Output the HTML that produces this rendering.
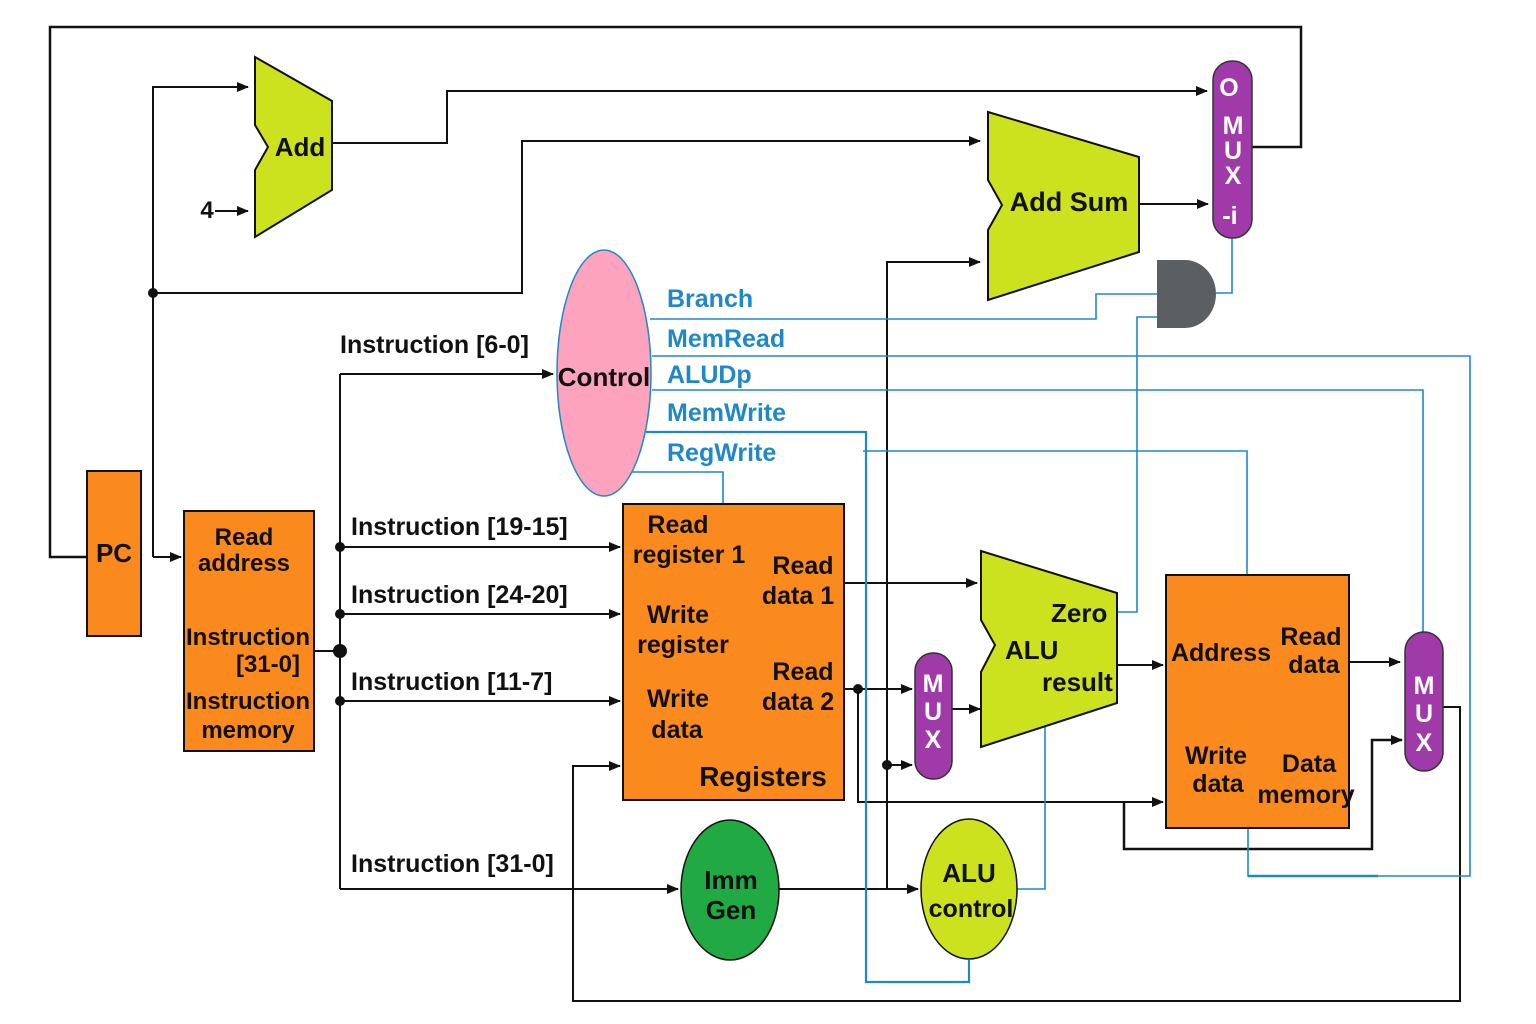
<!DOCTYPE html>
<html><head><meta charset="utf-8"><style>
html,body{margin:0;padding:0;background:#fff}
svg{display:block}
text{font-family:"Liberation Sans Narrow","Liberation Sans",sans-serif;font-weight:bold;fill:#111}
.b{fill:#1e88c8}
.w{fill:#fff}
</style></head><body>
<svg width="1536" height="1024" viewBox="0 0 1536 1024" xmlns="http://www.w3.org/2000/svg">
<defs>
<marker id="a" markerWidth="12" markerHeight="10" refX="11" refY="5" orient="auto" markerUnits="userSpaceOnUse"><path d="M0,0 L12,5 L0,10 z" fill="#111"/></marker>
</defs>
<g fill="none" stroke="#111" stroke-width="2">
<polyline points="1252,147 1301,147 1301,27 50,27 50,557 87,557" stroke-width="2.5"/>
<polyline points="153,557 153,87 248,87" marker-end="url(#a)"/>
<polyline points="153,557 181,557" marker-end="url(#a)"/>
<polyline points="153,293 522,293 522,141 980,141" marker-end="url(#a)"/>
<line x1="215" y1="211" x2="248" y2="211" marker-end="url(#a)"/>
<polyline points="332,143 447,143 447,91 1207,91" marker-end="url(#a)"/>
<line x1="314" y1="651" x2="340" y2="651"/>
<line x1="340" y1="374" x2="340" y2="889"/>
<line x1="340" y1="374" x2="553" y2="374" marker-end="url(#a)"/>
<line x1="340" y1="547" x2="620" y2="547" marker-end="url(#a)"/>
<line x1="340" y1="614" x2="620" y2="614" marker-end="url(#a)"/>
<line x1="340" y1="701" x2="620" y2="701" marker-end="url(#a)"/>
<line x1="340" y1="889" x2="678" y2="889" marker-end="url(#a)"/>
<line x1="779" y1="889" x2="918" y2="889" marker-end="url(#a)"/>
<polyline points="887,889 887,262 980,262" marker-end="url(#a)"/>
<line x1="887" y1="765" x2="912" y2="765" marker-end="url(#a)"/>
<line x1="844" y1="583" x2="977" y2="583" marker-end="url(#a)"/>
<line x1="844" y1="689" x2="912" y2="689" marker-end="url(#a)"/>
<polyline points="858,689 858,802 1163,802" marker-end="url(#a)"/>
<polyline points="1124,802 1124,849 1372,849 1372,740 1402,740" marker-end="url(#a)" stroke-width="2.5"/>
<line x1="952" y1="709" x2="980" y2="709" marker-end="url(#a)"/>
<line x1="1117" y1="665" x2="1163" y2="665" marker-end="url(#a)"/>
<line x1="1349" y1="662" x2="1400" y2="662" marker-end="url(#a)"/>
<line x1="1139" y1="204" x2="1208" y2="204" marker-end="url(#a)"/>
<polyline points="1443,707 1460,707 1460,1001 573,1001 573,766 620,766" marker-end="url(#a)"/>
</g>
<g fill="none" stroke="#1e88c8" stroke-width="1.6">
<polyline points="650,319 1096,319 1096,294 1157,294"/>
<polyline points="652,356 1470,356 1470,876 1248,876 1248,828"/>
<polyline points="652,390 1423,390 1423,632"/>
<polyline points="646,432 866,432 866,982 969,982 969,960" stroke-width="2.2"/>
<polyline points="627,472 723,472 723,503"/>
<polyline points="863,451 1247,451 1247,575"/>
<polyline points="1117,612 1137,612 1137,317 1157,317"/>
<polyline points="1216,293 1232,293 1232,238"/>
<polyline points="1017,889 1045,889 1045,725"/>
<line x1="1248" y1="876" x2="1378" y2="876" stroke-width="2.5"/>
</g>
<g fill="#111">
<circle cx="153" cy="293" r="5"/>
<circle cx="340" cy="651" r="7"/>
<circle cx="340" cy="547" r="5"/><circle cx="340" cy="614" r="5"/><circle cx="340" cy="701" r="5"/>
<circle cx="858" cy="689" r="5"/><circle cx="887" cy="765" r="5"/>
</g>
<rect x="87" y="471" width="54" height="165" fill="#fb8a1e" stroke="#111" stroke-width="2"/>
<text x="114" y="562" font-size="26" text-anchor="middle">PC</text>
<rect x="184" y="511" width="130" height="240" fill="#fb8a1e" stroke="#111" stroke-width="2"/>
<text x="244" y="545" font-size="24" text-anchor="middle">Read</text>
<text x="244" y="571" font-size="24" text-anchor="middle">address</text>
<text x="248" y="645" font-size="24" text-anchor="middle">Instruction</text>
<text x="268" y="672" font-size="24" text-anchor="middle">[31-0]</text>
<text x="248" y="709" font-size="24" text-anchor="middle">Instruction</text>
<text x="248" y="738" font-size="24" text-anchor="middle">memory</text>
<polygon points="255,57 332,101 332,190 255,237 255,170 268,147 255,125" fill="#cce21e" stroke="#111" stroke-width="2"/>
<text x="300" y="156" font-size="26" text-anchor="middle">Add</text>
<text x="207" y="218" font-size="24" text-anchor="middle">4</text>
<polygon points="988,112 1139,157 1139,252 988,300 988,230 1002,205 988,180" fill="#cce21e" stroke="#111" stroke-width="2"/>
<text x="1069" y="211" font-size="27" text-anchor="middle">Add Sum</text>
<rect x="1213" y="61" width="39" height="177" rx="19" fill="#a03aa8" stroke="#333" stroke-width="1.5"/>
<g font-size="25" text-anchor="middle">
<text class="w" x="1229" y="96">O</text><text class="w" x="1233" y="134">M</text><text class="w" x="1233" y="159">U</text><text class="w" x="1233" y="184">X</text><text class="w" x="1230" y="224">-i</text>
</g>
<path d="M1157,260 L1185,260 A31,34 0 0 1 1185,328 L1157,328 Z" fill="#5b5f61"/>
<ellipse cx="604" cy="373" rx="47" ry="123" fill="#fda3be" stroke="#1e88c8" stroke-width="1.5"/>
<text x="604" y="386" font-size="26" text-anchor="middle">Control</text>
<g font-size="25">
<text class="b" x="667" y="307">Branch</text>
<text class="b" x="667" y="347">MemRead</text>
<text class="b" x="667" y="383">ALUDp</text>
<text class="b" x="667" y="421">MemWrite</text>
<text class="b" x="667" y="461">RegWrite</text>
</g>
<g font-size="25">
<text x="340" y="353">Instruction [6-0]</text>
<text x="351" y="535">Instruction [19-15]</text>
<text x="351" y="603">Instruction [24-20]</text>
<text x="351" y="690">Instruction [11-7]</text>
<text x="351" y="872">Instruction [31-0]</text>
</g>
<rect x="623" y="504" width="221" height="296" fill="#fb8a1e" stroke="#111" stroke-width="2"/>
<g font-size="25">
<text x="678" y="533" text-anchor="middle">Read</text>
<text x="689" y="563" text-anchor="middle">register 1</text>
<text x="678" y="623" text-anchor="middle">Write</text>
<text x="683" y="653" text-anchor="middle">register</text>
<text x="678" y="707" text-anchor="middle">Write</text>
<text x="677" y="738" text-anchor="middle">data</text>
<text x="803" y="574" text-anchor="middle">Read</text>
<text x="798" y="604" text-anchor="middle">data 1</text>
<text x="803" y="680" text-anchor="middle">Read</text>
<text x="798" y="710" text-anchor="middle">data 2</text>
<text x="763" y="786" text-anchor="middle" font-size="28">Registers</text>
</g>
<rect x="915" y="653" width="37" height="126" rx="18" fill="#a03aa8" stroke="#333" stroke-width="1.5"/>
<g font-size="25" text-anchor="middle"><text class="w" x="933" y="692">M</text><text class="w" x="933" y="720">U</text><text class="w" x="933" y="748">X</text></g>
<polygon points="981,551 1117,593 1117,703 981,747 981,672 995,645 981,620" fill="#cce21e" stroke="#111" stroke-width="2"/>
<g font-size="26">
<text x="1051" y="622">Zero</text>
<text x="1005" y="659">ALU</text>
<text x="1042" y="691">result</text>
</g>
<rect x="1166" y="575" width="183" height="253" fill="#fb8a1e" stroke="#111" stroke-width="2"/>
<g font-size="25">
<text x="1221" y="661" text-anchor="middle">Address</text>
<text x="1311" y="645" text-anchor="middle">Read</text>
<text x="1314" y="673" text-anchor="middle">data</text>
<text x="1216" y="764" text-anchor="middle">Write</text>
<text x="1218" y="792" text-anchor="middle">data</text>
<text x="1309" y="772" text-anchor="middle">Data</text>
<text x="1306" y="803" text-anchor="middle">memory</text>
</g>
<rect x="1405" y="632" width="38" height="139" rx="19" fill="#a03aa8" stroke="#333" stroke-width="1.5"/>
<g font-size="25" text-anchor="middle"><text class="w" x="1424" y="694">M</text><text class="w" x="1424" y="722">U</text><text class="w" x="1424" y="751">X</text></g>
<ellipse cx="730" cy="890" rx="49" ry="70" fill="#21aa44" stroke="#111" stroke-width="1.5"/>
<text x="731" y="889" font-size="26" text-anchor="middle">Imm</text>
<text x="731" y="919" font-size="26" text-anchor="middle">Gen</text>
<ellipse cx="969" cy="889" rx="48" ry="70" fill="#cce21e" stroke="#111" stroke-width="1.5"/>
<text x="969" y="882" font-size="26" text-anchor="middle">ALU</text>
<text x="971" y="917" font-size="25" text-anchor="middle">control</text>
</svg>
</body></html>
